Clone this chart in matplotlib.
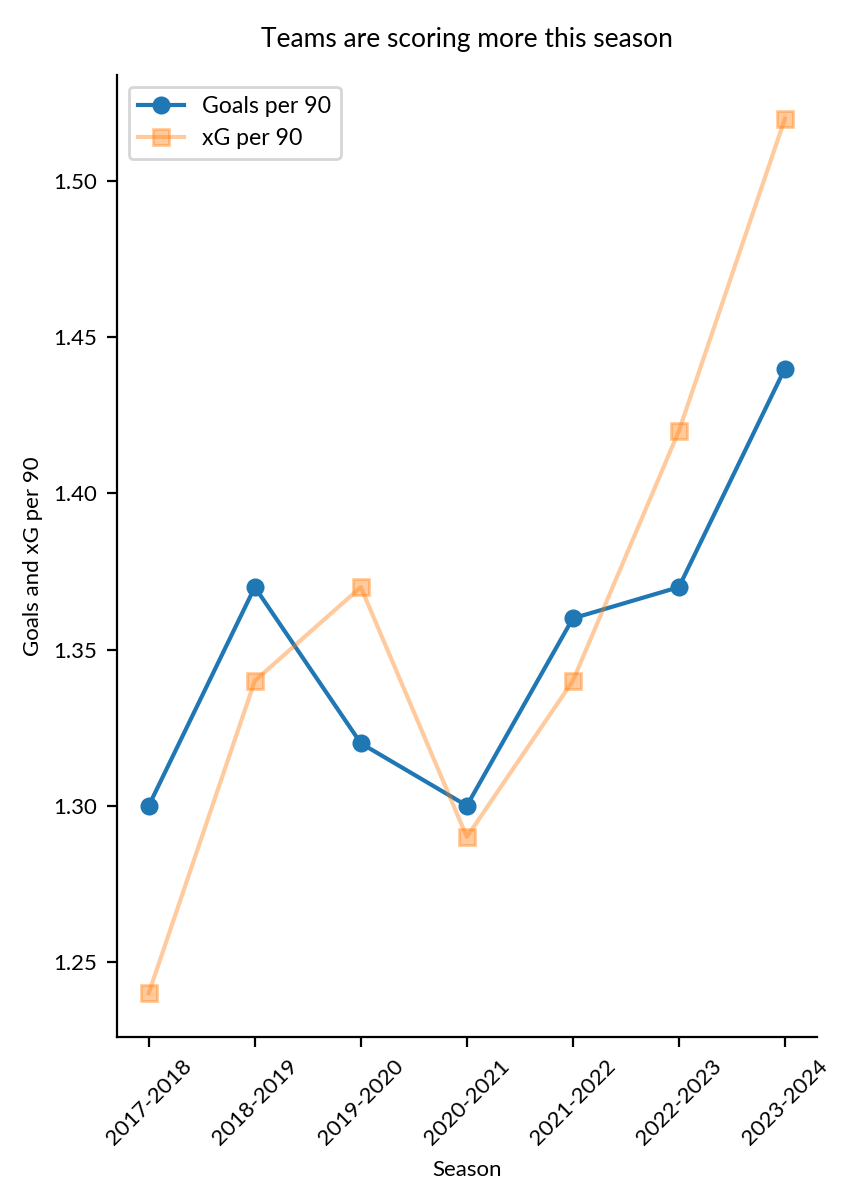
import matplotlib
matplotlib.use("Agg")
import matplotlib.pyplot as plt

plt.rcParams['font.family'] = ['Lato', 'DejaVu Sans']

seasons = ['2017-2018', '2018-2019', '2019-2020', '2020-2021',
           '2021-2022', '2022-2023', '2023-2024']
goals_per_90 = [1.30, 1.37, 1.32, 1.30, 1.36, 1.37, 1.44]
xg_per_90 = [1.24, 1.34, 1.37, 1.29, 1.34, 1.42, 1.52]

fig, ax = plt.subplots(figsize=(4.285, 6), dpi=200)
fig.subplots_adjust(left=0.1365, right=0.953, top=0.9375, bottom=0.136)

ax.plot(seasons, goals_per_90, marker='o', markersize=5.5, color='C0', label='Goals per 90')
ax.plot(seasons, xg_per_90, marker='s', markersize=5.5, color='C1', alpha=0.4, label='xG per 90')

ax.set_title('Teams are scoring more this season', fontsize=9.5, pad=10)
ax.set_xlabel('Season', fontsize=8)
ax.set_ylabel('Goals and xG per 90', fontsize=8)
ax.tick_params(axis='both', labelsize=8)
plt.setp(ax.get_xticklabels(), rotation=45)
ax.spines['top'].set_visible(False)
ax.spines['right'].set_visible(False)
ax.legend(loc='upper left', fontsize=8.3)

fig.savefig('out.png', dpi=200)
